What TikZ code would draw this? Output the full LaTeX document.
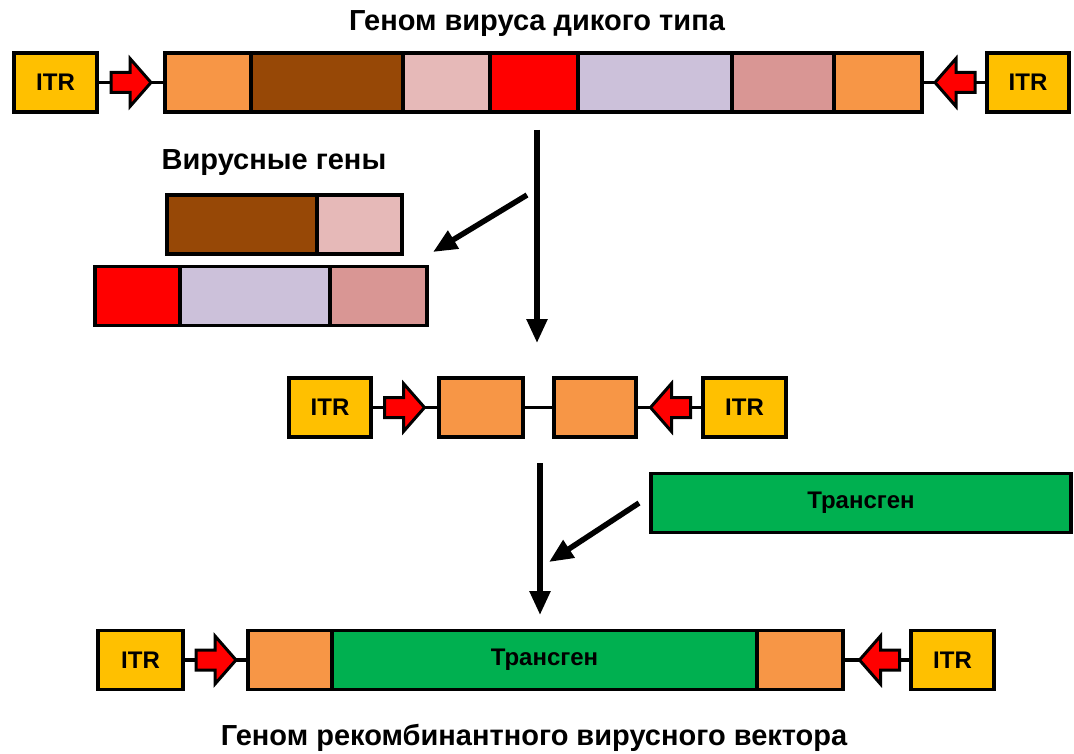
\documentclass[tikz,border=0pt]{standalone}
\usepackage{fontspec}
\setmainfont{Liberation Sans}
\usepackage{xcolor}
\usepackage{tikz}
\usetikzlibrary{shapes,arrows.meta,positioning}

\definecolor{itrcol}{HTML}{FFC000}
\definecolor{flank}{HTML}{F79646}
\definecolor{genbrown}{HTML}{974806}
\definecolor{genpink}{HTML}{E6B9B8}
\definecolor{genred}{HTML}{FF0000}
\definecolor{genlilac}{HTML}{CCC1DA}
\definecolor{genrose}{HTML}{D99694}
\definecolor{transcol}{HTML}{00B050}

\tikzset{
  seg/.style={draw=black, line width=3.5pt, minimum height=59pt, inner sep=0pt, outer sep=0pt, font=\bfseries\fontsize{24}{28}\selectfont},
  itr/.style={seg, fill=itrcol, minimum width=83pt},
  link/.style={line width=3.5pt},
  flow/.style={line width=5.5pt, -{Triangle[length=24pt,width=20pt]}},
  caption/.style={font=\bfseries\fontsize{29}{34}\selectfont},
  % red block arrow (points right, mirror it with xscale=-1)
  redarrow/.pic={
    \draw[fill=red, line width=3pt, line join=miter]
      (-20,-10) -- (-1,-10) -- (-1,-24) -- (20,0) -- (-1,24) -- (-1,10) -- (-20,10) -- cycle;
  }
}

\begin{document}
\begin{tikzpicture}[x=1pt,y=-1pt]
  \useasboundingbox (0,0) rectangle (1074,754);

  % wild type genome
  \node[caption] (title1) at (537,24) {Геном вируса дикого типа};
  \node[itr] (itrA) at (55.5,82.5) {ITR};
  \node[seg, fill=flank, minimum width=86pt] (wA) at (208,82.5) {};
  \node[seg, fill=genbrown, minimum width=152pt, right=0pt of wA] (wB) {};
  \node[seg, fill=genpink, minimum width=87pt, right=0pt of wB] (wC) {};
  \node[seg, fill=genred, minimum width=88pt, right=0pt of wC] (wD) {};
  \node[seg, fill=genlilac, minimum width=154pt, right=0pt of wD] (wE) {};
  \node[seg, fill=genrose, minimum width=102pt, right=0pt of wE] (wF) {};
  \node[seg, fill=flank, minimum width=88pt, right=0pt of wF] (wG) {};
  \node[itr, minimum width=82pt] (itrB) at (1028,82.5) {ITR};
  \draw[link] (itrA.east) -- (wA.west);
  \draw[link] (wG.east) -- (itrB.west);
  \pic at (131,82.5) {redarrow};
  \pic[xscale=-1] at (955,82.5) {redarrow};

  % removed viral genes
  \node[caption] (genes) at (274,163) {Вирусные гены};
  \node[seg, fill=genbrown, minimum width=150pt] (gA) at (242,224.5) {};
  \node[seg, fill=genpink, minimum width=85pt, right=0pt of gA] (gB) {};
  \node[seg, fill=genred, minimum width=85pt] (gC) at (137.5,296) {};
  \node[seg, fill=genlilac, minimum width=150pt, right=0pt of gC] (gD) {};
  \node[seg, fill=genrose, minimum width=97pt, right=0pt of gD] (gE) {};

  \coordinate (v1top) at (537,130);
  \coordinate (v1bot) at (537,343);
  \coordinate (d1from) at (527,195);
  \coordinate (d1to) at (433,252);
  \draw[flow] (v1top) -- (v1bot);
  \draw[flow] (d1from) -- (d1to);

  % deleted genome
  \node[itr, minimum width=82pt] (itrC) at (330,407.5) {ITR};
  \node[seg, fill=flank, minimum width=84pt] (eA) at (481,407.5) {};
  \node[seg, fill=flank, minimum width=82pt] (eB) at (595,407.5) {};
  \node[itr] (itrD) at (744.5,407.5) {ITR};
  \draw[link] (itrC.east) -- (eA.west);
  \draw[link] (eA.east) -- (eB.west);
  \draw[link] (eB.east) -- (itrD.west);
  \pic at (404.5,407.5) {redarrow};
  \pic[xscale=-1] at (670.5,407.5) {redarrow};

  % transgene
  \node[seg, fill=transcol, minimum width=420pt] (trans) at (861,503) {Трансген};
  \coordinate (v2top) at (540,463);
  \coordinate (v2bot) at (540,615);
  \coordinate (d2from) at (639,503);
  \coordinate (d2to) at (549,562);
  \draw[flow] (v2top) -- (v2bot);
  \draw[flow] (d2from) -- (d2to);

  % recombinant vector
  \node[itr, minimum width=85pt] (itrE) at (140.5,660) {ITR};
  \node[seg, fill=flank, minimum width=84pt] (rA) at (290,660) {};
  \node[seg, fill=transcol, minimum width=425pt, right=0pt of rA] (rB) {Трансген};
  \node[seg, fill=flank, minimum width=86pt, right=0pt of rB] (rC) {};
  \node[itr] (itrF) at (952.5,660) {ITR};
  \draw[link] (itrE.east) -- (rA.west);
  \draw[link] (rC.east) -- (itrF.west);
  \pic at (216,660) {redarrow};
  \pic[xscale=-1] at (879.5,660) {redarrow};

  \node[caption] (title2) at (534,738) {Геном рекомбинантного вирусного вектора};
\end{tikzpicture}
\end{document}
